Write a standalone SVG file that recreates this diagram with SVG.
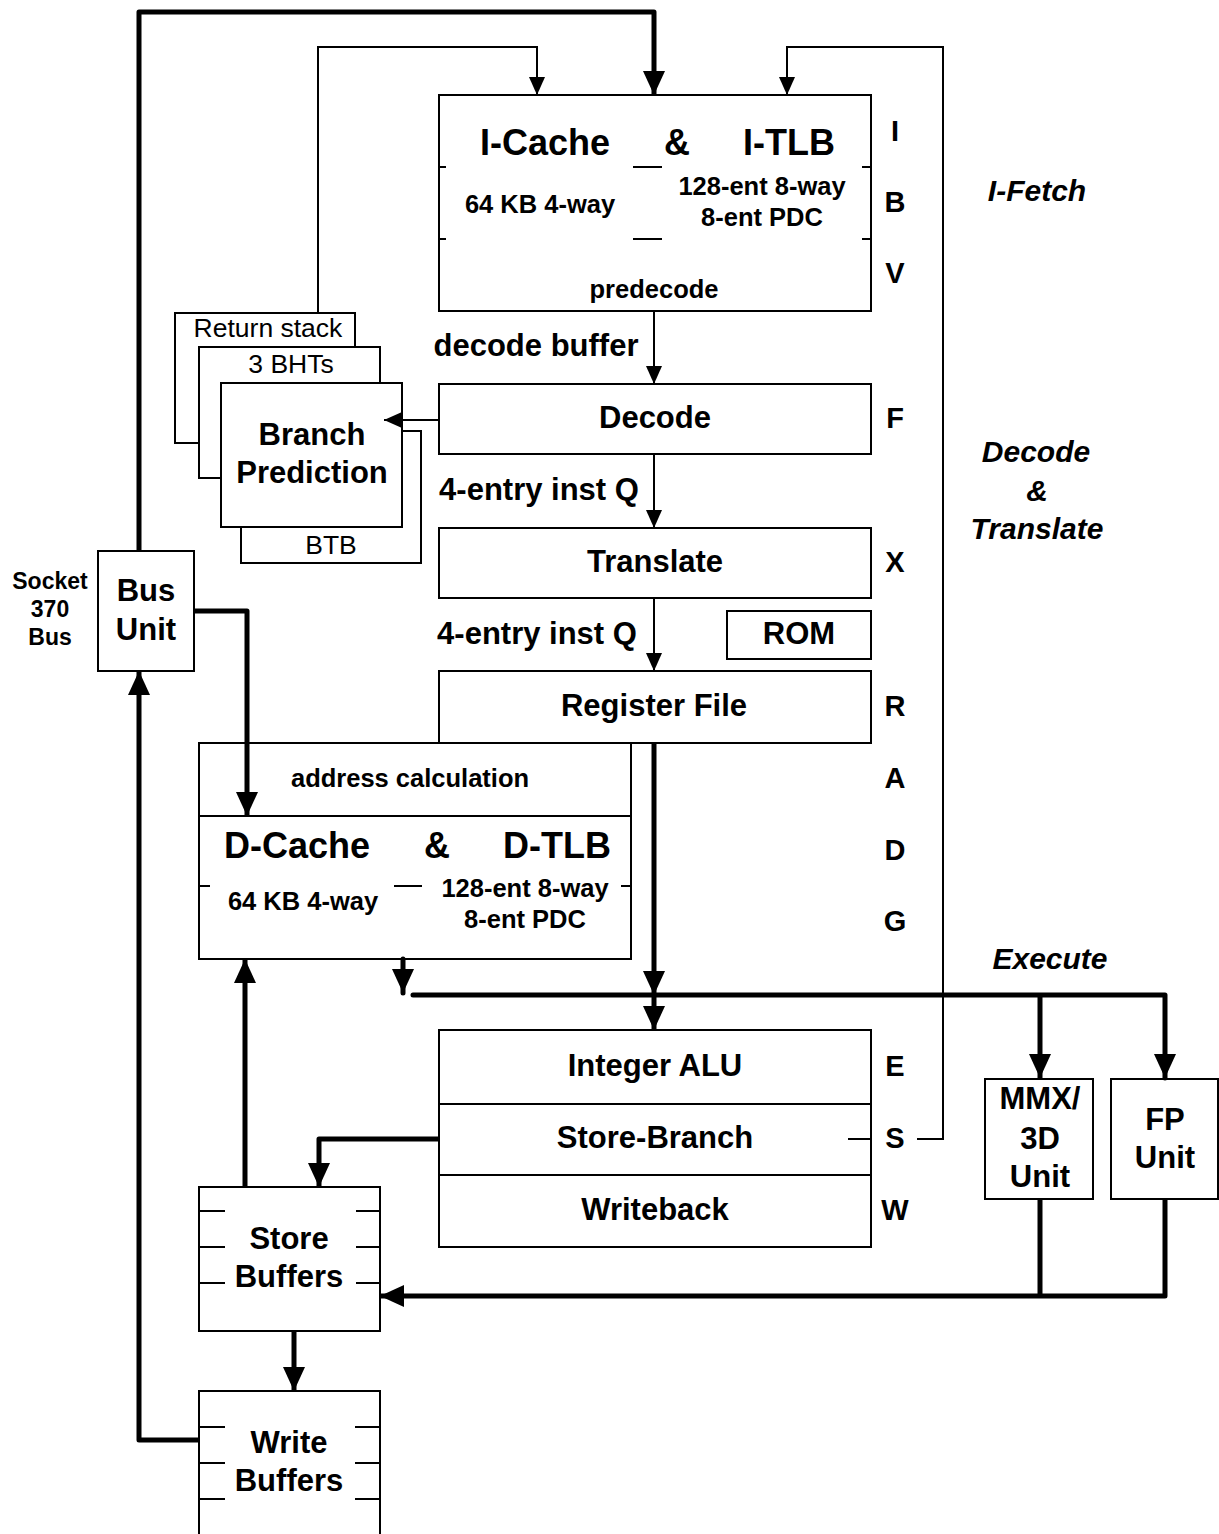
<svg xmlns="http://www.w3.org/2000/svg" width="1219" height="1534" viewBox="0 0 1219 1534">
<style>
.box{fill:#fff;stroke:#000;stroke-width:2}
.tick{stroke:#000;stroke-width:2;fill:none}
.thin{stroke:#000;stroke-width:2;fill:none;marker-end:url(#at)}
.thinp{stroke:#000;stroke-width:2;fill:none}
.thick{stroke:#000;stroke-width:5;fill:none;stroke-linejoin:round;marker-end:url(#ah)}
.thickp{stroke:#000;stroke-width:5;fill:none;stroke-linejoin:round}
text{font-family:"Liberation Sans",Arial,sans-serif;text-anchor:middle;fill:#000}
.b31{font-size:31px;font-weight:bold}
.b36{font-size:36px;font-weight:bold}
.b26{font-size:25.5px;font-weight:bold}
.r26{font-size:26.5px}
.st{font-size:29px;font-weight:bold}
.it{font-size:30px;font-weight:bold;font-style:italic}
.sk{font-size:23px;font-weight:bold}
</style>
<defs>
<marker id="ah" markerUnits="userSpaceOnUse" markerWidth="24" markerHeight="24" viewBox="0 0 24 24" refX="24" refY="12" orient="auto"><path d="M0,1 L24,12 L0,23 z" fill="#000"/></marker>
<marker id="at" markerUnits="userSpaceOnUse" markerWidth="18" markerHeight="16" viewBox="0 0 18 16" refX="18" refY="8" orient="auto"><path d="M0,0 L18,8 L0,16 z" fill="#000"/></marker>
</defs>
<rect width="1219" height="1534" fill="#fff"/>

<g id="icache">
<rect class="box" x="439" y="95" width="432" height="216"/>
<path class="tick" d="M439,167 H446 M439,239 H446 M633,167 H662 M633,239 H662 M862,167 H871 M862,239 H871"/>
<text class="b36" x="545" y="155">I-Cache</text>
<text class="b36" x="677" y="155">&amp;</text>
<text class="b36" x="789" y="155">I-TLB</text>
<text class="b26" x="540" y="213">64 KB 4-way</text>
<text class="b26" x="762" y="195">128-ent 8-way</text>
<text class="b26" x="762" y="226">8-ent PDC</text>
<text class="b26" x="654" y="298">predecode</text>
</g>

<g id="return-stack">
<rect class="box" x="175" y="313" width="180" height="130"/>
<text class="r26" x="268" y="337">Return stack</text>
</g>
<g id="bhts">
<rect class="box" x="199" y="347" width="181" height="131"/>
<text class="r26" x="291" y="373">3 BHTs</text>
</g>
<g id="btb">
<rect class="box" x="241" y="431" width="180" height="132"/>
<text class="r26" x="331" y="554">BTB</text>
</g>
<g id="branch-prediction">
<rect class="box" x="221" y="383" width="181" height="144"/>
<text class="b31" x="312" y="445">Branch</text>
<text class="b31" x="312" y="483">Prediction</text>
</g>

<g id="decode">
<rect class="box" x="439" y="384" width="432" height="70"/>
<text class="b31" x="655" y="428">Decode</text>
</g>
<g id="translate">
<rect class="box" x="439" y="528" width="432" height="70"/>
<text class="b31" x="655" y="572">Translate</text>
</g>
<g id="rom">
<rect class="box" x="727" y="611" width="144" height="48"/>
<text class="b31" x="799" y="644">ROM</text>
</g>
<g id="register-file">
<rect class="box" x="439" y="671" width="432" height="72"/>
<text class="b31" x="654" y="716">Register File</text>
</g>

<g id="dcache">
<rect class="box" x="199" y="743" width="432" height="216"/>
<line class="tick" x1="199" y1="816" x2="631" y2="816"/>
<path class="tick" d="M199,886 H210 M394,886 H422 M621,886 H631"/>
<text class="b26" x="410" y="787">address calculation</text>
<text class="b36" x="297" y="858">D-Cache</text>
<text class="b36" x="437" y="858">&amp;</text>
<text class="b36" x="557" y="858">D-TLB</text>
<text class="b26" x="303" y="910">64 KB 4-way</text>
<text class="b26" x="525" y="897">128-ent 8-way</text>
<text class="b26" x="525" y="928">8-ent PDC</text>
</g>

<g id="bus-unit">
<rect class="box" x="98" y="551" width="96" height="120"/>
<text class="b31" x="146" y="601">Bus</text>
<text class="b31" x="146" y="640">Unit</text>
</g>

<g id="alu">
<rect class="box" x="439" y="1030" width="432" height="217"/>
<path class="tick" d="M439,1104 H871 M439,1175 H871"/>
<text class="b31" x="655" y="1076">Integer ALU</text>
<text class="b31" x="655" y="1148">Store-Branch</text>
<text class="b31" x="655" y="1220">Writeback</text>
</g>

<g id="mmx">
<rect class="box" x="985" y="1079" width="108" height="120"/>
<text class="b31" x="1040" y="1109">MMX/</text>
<text class="b31" x="1040" y="1149">3D</text>
<text class="b31" x="1040" y="1187">Unit</text>
</g>
<g id="fp">
<rect class="box" x="1111" y="1079" width="107" height="120"/>
<text class="b31" x="1165" y="1130">FP</text>
<text class="b31" x="1165" y="1168">Unit</text>
</g>

<g id="store-buffers">
<rect class="box" x="199" y="1187" width="181" height="144"/>
<path class="tick" d="M199,1211 H225 M199,1247 H225 M199,1283 H225 M356,1211 H380 M356,1247 H380 M356,1283 H380"/>
<text class="b31" x="289" y="1249">Store</text>
<text class="b31" x="289" y="1287">Buffers</text>
</g>
<g id="write-buffers">
<rect class="box" x="199" y="1391" width="181" height="150"/>
<path class="tick" d="M199,1427 H225 M199,1463 H225 M199,1499 H225 M355,1427 H380 M355,1463 H380 M355,1499 H380"/>
<text class="b31" x="289" y="1453">Write</text>
<text class="b31" x="289" y="1491">Buffers</text>
</g>

<g id="labels">
<text class="sk" x="50" y="589">Socket</text>
<text class="sk" x="50" y="617">370</text>
<text class="sk" x="50" y="645">Bus</text>
<text class="b31" x="536" y="356">decode buffer</text>
<text class="b31" x="539" y="500">4-entry inst Q</text>
<text class="b31" x="537" y="644">4-entry inst Q</text>
<text class="st" x="895" y="141">I</text>
<text class="st" x="895" y="212">B</text>
<text class="st" x="895" y="283">V</text>
<text class="st" x="895" y="428">F</text>
<text class="st" x="895" y="572">X</text>
<text class="st" x="895" y="716">R</text>
<text class="st" x="895" y="788">A</text>
<text class="st" x="895" y="860">D</text>
<text class="st" x="895" y="931">G</text>
<text class="st" x="895" y="1076">E</text>
<text class="st" x="895" y="1148">S</text>
<text class="st" x="895" y="1220">W</text>
<text class="it" x="1037" y="201">I-Fetch</text>
<text class="it" x="1036" y="462">Decode</text>
<text class="it" x="1037" y="501">&amp;</text>
<text class="it" x="1037" y="539">Translate</text>
<text class="it" x="1050" y="969">Execute</text>
</g>

<g id="connectors">
<path class="thick" d="M139,551 V12 H654 V95"/>
<path class="thin" d="M318,313 V47 H537 V95"/>
<path class="thinp" d="M848,1139 H871"/>
<path class="thin" d="M917,1139 H943 V47 H787 V95"/>
<path class="thin" d="M654,311 V384"/>
<path class="thin" d="M439,420 H384"/>
<path class="thin" d="M654,454 V528"/>
<path class="thin" d="M654,598 V671"/>
<path class="thick" d="M194,611 H247 V816"/>
<path class="thick" d="M654,743 V995"/>
<path class="thick" d="M654,995 V1030"/>
<path class="thick" style="stroke-linecap:round" d="M403,959 V993"/>
<path class="thick" style="stroke-linecap:round" d="M413,995 H1165 V1078"/>
<path class="thick" d="M1040,995 V1078"/>
<path class="thickp" d="M1040,1199 V1296"/>
<path class="thick" d="M1165,1199 V1296 H380"/>
<path class="thick" d="M439,1139 H319 V1187"/>
<path class="thick" d="M245,1187 V959"/>
<path class="thick" d="M294,1331 V1391"/>
<path class="thick" d="M199,1440 H139 V671"/>
</g>
</svg>
